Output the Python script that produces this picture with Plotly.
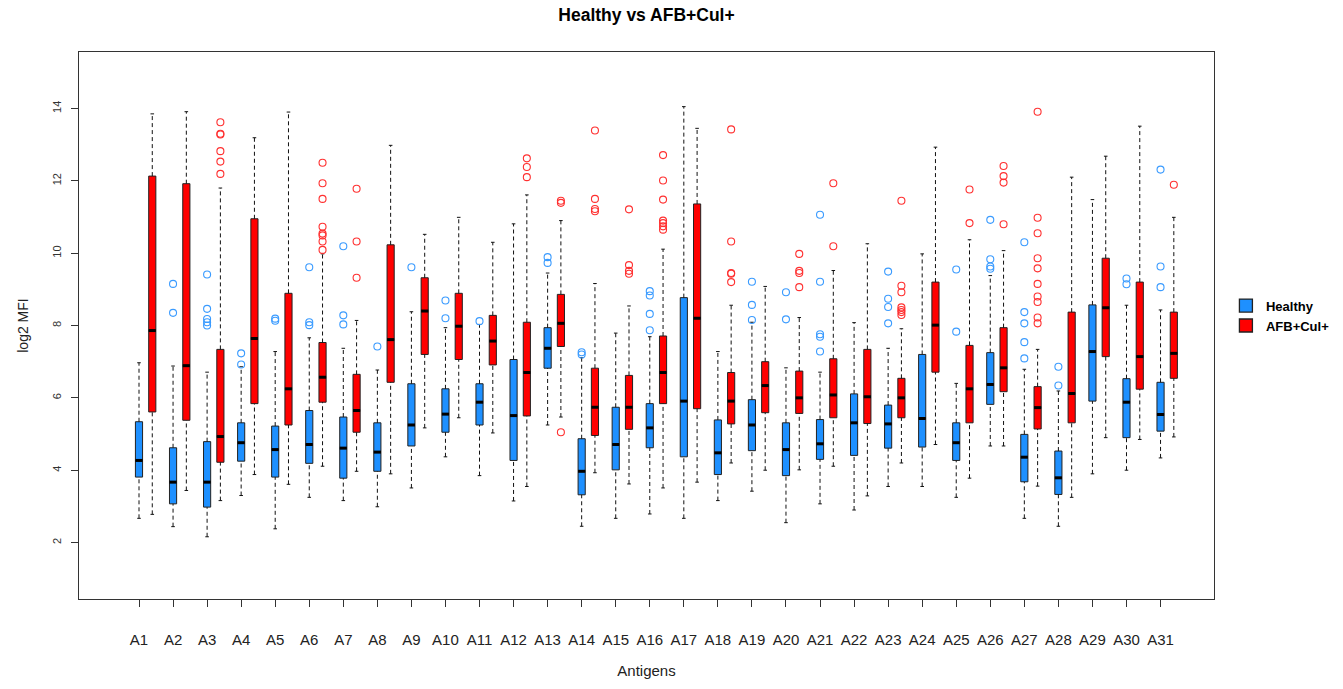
import plotly.graph_objects as go

antigens = ["A%d" % i for i in range(1, 32)]
groups = ["Healthy", "AFB+Cul+"]

# Healthy
h_lo = [2.67, 2.44, 2.16, 3.30, 2.38, 3.25, 3.16, 2.99, 3.51, 4.37, 3.85, 3.15, 5.25, 2.45, 2.67, 2.79, 2.67, 3.16, 3.42, 2.55, 3.07, 2.90, 3.55, 3.55, 3.25, 4.67, 2.67, 2.45, 3.90, 4.00, 4.34]
h_q1 = [3.81, 3.07, 2.98, 4.25, 3.81, 4.19, 3.78, 3.97, 4.67, 5.05, 5.25, 4.27, 6.82, 3.32, 4.01, 4.62, 4.37, 3.88, 4.54, 3.85, 4.30, 4.41, 4.61, 4.64, 4.27, 5.82, 3.68, 3.33, 5.91, 4.90, 5.08]
h_med = [4.27, 3.67, 3.67, 4.76, 4.57, 4.71, 4.61, 4.50, 5.25, 5.55, 5.88, 5.51, 7.37, 3.97, 4.71, 5.17, 5.91, 4.48, 5.25, 4.57, 4.73, 5.31, 5.28, 5.43, 4.76, 6.37, 4.36, 3.79, 7.28, 5.88, 5.54]
h_q3 = [5.34, 4.62, 4.79, 5.31, 5.22, 5.65, 5.47, 5.31, 6.39, 6.25, 6.39, 7.06, 7.94, 4.87, 5.74, 5.84, 8.77, 5.39, 5.95, 5.31, 5.40, 6.11, 5.80, 7.20, 5.31, 7.25, 4.99, 4.53, 8.57, 6.53, 6.43]
h_hi = [6.97, 6.88, 6.71, 6.86, 7.28, 7.66, 7.37, 6.77, 8.38, 7.94, 8.03, 10.81, 9.45, 7.11, 7.79, 7.69, 14.05, 7.28, 8.09, 6.83, 6.71, 8.08, 7.37, 9.98, 6.40, 9.38, 6.79, 6.19, 11.48, 8.56, 8.43]
h_out = [
    [], [9.15, 8.35], [9.41, 8.46, 8.18, 8.09, 8.00], [7.23, 6.92], [8.19, 8.13],
    [9.61, 8.09, 8.01], [10.19, 8.28, 8.03], [7.42], [9.61], [8.69, 8.20],
    [8.12], [], [9.89, 9.73], [7.26, 7.20], [],
    [8.95, 8.83, 8.32, 7.87], [], [], [9.21, 8.57, 8.15], [8.92, 8.17],
    [11.06, 9.21, 7.76, 7.69, 7.28], [], [9.49, 8.74, 8.51, 8.06], [], [9.55, 7.83],
    [10.92, 9.83, 9.63, 9.57], [10.30, 8.37, 8.06, 7.54, 7.09], [6.86, 6.34], [], [9.30, 9.14],
    [12.31, 9.63, 9.06]]

# AFB+Cul+
r_lo = [2.78, 3.44, 3.16, 3.88, 3.61, 4.11, 3.97, 3.90, 5.17, 5.45, 5.03, 3.55, 5.47, 3.93, 3.62, 3.51, 3.67, 4.20, 4.00, 4.01, 4.11, 3.29, 4.20, 4.71, 3.78, 4.67, 3.56, 3.25, 4.90, 4.85, 4.92]
r_q1 = [5.61, 5.38, 4.22, 5.84, 5.25, 5.88, 5.05, 6.43, 7.20, 7.06, 6.91, 5.50, 7.42, 4.96, 5.13, 5.84, 5.70, 5.28, 5.59, 5.57, 5.45, 5.29, 5.45, 6.71, 5.31, 6.17, 5.14, 5.31, 7.14, 6.24, 6.54]
r_med = [7.86, 6.89, 4.93, 7.64, 6.25, 6.57, 5.65, 7.61, 8.40, 7.98, 7.57, 6.70, 8.06, 5.74, 5.74, 6.70, 8.20, 5.91, 6.34, 6.00, 6.08, 6.03, 6.00, 8.01, 6.25, 6.83, 5.73, 6.12, 8.49, 7.14, 7.23]
r_q3 = [12.13, 11.92, 7.34, 10.95, 8.89, 7.53, 6.65, 10.23, 9.32, 8.89, 8.28, 8.09, 8.86, 6.82, 6.62, 7.71, 11.36, 6.70, 7.00, 6.74, 7.08, 7.34, 6.54, 9.20, 7.45, 7.94, 6.31, 8.37, 9.86, 9.20, 8.37]
r_hi = [13.85, 13.91, 11.80, 13.19, 13.90, 9.98, 8.14, 12.98, 10.52, 10.99, 10.30, 11.61, 10.90, 9.16, 8.54, 10.11, 13.45, 8.56, 9.08, 8.22, 9.52, 10.26, 7.91, 12.93, 10.37, 10.07, 7.34, 12.10, 12.68, 13.51, 10.99]
r_out = [
    [], [], [13.62, 13.30, 13.28, 12.82, 12.53, 12.19], [], [],
    [12.50, 11.93, 11.50, 10.73, 10.54, 10.49, 10.32, 10.09], [11.78, 10.32, 9.32], [], [], [],
    [], [12.62, 12.38, 12.10], [11.45, 11.39, 5.05], [13.39, 11.50, 11.22, 11.16], [11.21, 9.67, 9.51, 9.43],
    [12.71, 12.01, 11.48, 10.90, 10.83, 10.74, 10.65], [], [13.42, 10.32, 9.45, 9.43, 9.20], [], [9.98, 9.51, 9.45, 9.06],
    [11.93, 10.19], [], [11.45, 9.10, 8.92, 8.50, 8.43, 8.37, 8.29], [], [11.76, 10.83],
    [12.41, 12.13, 11.95, 10.80], [13.91, 10.98, 10.55, 9.86, 9.58, 9.15, 8.80, 8.65, 8.22, 8.06], [], [], [],
    [11.89]]

y_ticks = [2, 4, 6, 8, 10, 12, 14]

FILL = {"Healthy": "#1E90FF", "AFB+Cul+": "#FF0000"}
OUTC = {"Healthy": "#3A9BFF", "AFB+Cul+": "#FF3030"}
OFFSET = {"Healthy": 0.0, "AFB+Cul+": 0.39}
BW = 0.21
FONT = "Liberation Sans, Arial, sans-serif"

data = {
    "Healthy": (h_lo, h_q1, h_med, h_q3, h_hi, h_out),
    "AFB+Cul+": (r_lo, r_q1, r_med, r_q3, r_hi, r_out),
}

fig = go.Figure()
for g in groups:
    lo, q1, med, q3, hi, out = data[g]
    xs = [i + 1 + OFFSET[g] for i in range(len(antigens))]
    # boxes
    fig.add_trace(go.Box(
        x=xs, q1=q1, median=med, q3=q3, lowerfence=q1, upperfence=q3,
        width=BW, whiskerwidth=0, fillcolor=FILL[g],
        line=dict(color="#222222", width=1), boxpoints=False,
        showlegend=False, hoverinfo="skip"))
    # whiskers (dashed)
    wx, wy = [], []
    for x, a, b, c, d in zip(xs, lo, q1, q3, hi):
        wx += [x, x, None, x, x, None]
        wy += [a, b, None, c, d, None]
    fig.add_trace(go.Scatter(x=wx, y=wy, mode="lines",
                             line=dict(color="#111111", width=1, dash="4px,3px"),
                             showlegend=False, hoverinfo="skip"))
    # caps
    cx, cy = [], []
    for x, a, d in zip(xs, lo, hi):
        cx += [x - BW / 4, x + BW / 4, None, x - BW / 4, x + BW / 4, None]
        cy += [a, a, None, d, d, None]
    fig.add_trace(go.Scatter(x=cx, y=cy, mode="lines",
                             line=dict(color="#111111", width=1),
                             showlegend=False, hoverinfo="skip"))
    # medians (thick)
    mx, my = [], []
    for x, m in zip(xs, med):
        mx += [x - BW / 2, x + BW / 2, None]
        my += [m, m, None]
    fig.add_trace(go.Scatter(x=mx, y=my, mode="lines",
                             line=dict(color="black", width=3),
                             showlegend=False, hoverinfo="skip"))
    # outliers
    ox, oy = [], []
    for x, pts in zip(xs, out):
        for p in pts:
            ox.append(x)
            oy.append(p)
    fig.add_trace(go.Scatter(x=ox, y=oy, mode="markers",
                             marker=dict(symbol="circle-open", size=7,
                                         color=OUTC[g], line=dict(width=1.1)),
                             showlegend=False, hoverinfo="skip"))

# legend entries
for g in groups:
    fig.add_trace(go.Scatter(x=[None], y=[None], mode="markers", name=g,
                             marker=dict(symbol="square", size=13, color=FILL[g],
                                         line=dict(color="#222222", width=1.3))))

fig.update_layout(
    width=1343, height=689,
    margin=dict(l=79, r=129, t=52, b=90, autoexpand=False),
    paper_bgcolor="white", plot_bgcolor="white",
    boxmode="overlay",
    font=dict(family=FONT, color="#222222"),
    title=dict(text="<b>Healthy vs AFB+Cul+</b>", x=0.5, xref="paper",
               y=1 - 15 / 689, yref="container", yanchor="middle",
               font=dict(size=17.5, color="black", family=FONT)),
    legend=dict(x=1.0105, y=0.518, xanchor="left", yanchor="middle",
                font=dict(size=13, color="black", family=FONT, weight="bold"),
                itemwidth=30, tracegroupgap=0, bgcolor="rgba(0,0,0,0)"),
    xaxis=dict(range=[-0.762, 32.57], tickmode="array",
               tickvals=[i + 1 for i in range(len(antigens))], ticktext=antigens,
               ticks="outside", ticklen=7, tickcolor="#333333",
               showline=True, mirror=True, linecolor="#333333", linewidth=1,
               showgrid=False, zeroline=False, ticklabelstandoff=20,
               tickfont=dict(size=15, color="#222222"),
               title=dict(text="Antigens", font=dict(size=15), standoff=18)),
    yaxis=dict(range=[0.44, 15.56], tickmode="array", tickvals=y_ticks,
               ticks="outside", ticklen=7, tickcolor="#333333", tickangle=-90,
               showline=True, mirror=True, linecolor="#333333", linewidth=1,
               showgrid=False, zeroline=False, ticklabelstandoff=6,
               tickfont=dict(size=11, color="#333333"),
               title=dict(text="log2 MFI", font=dict(size=14), standoff=18)),
)

fig.write_html("out.html", config={"displayModeBar": False},
               post_script="document.body.style.margin='0';")
